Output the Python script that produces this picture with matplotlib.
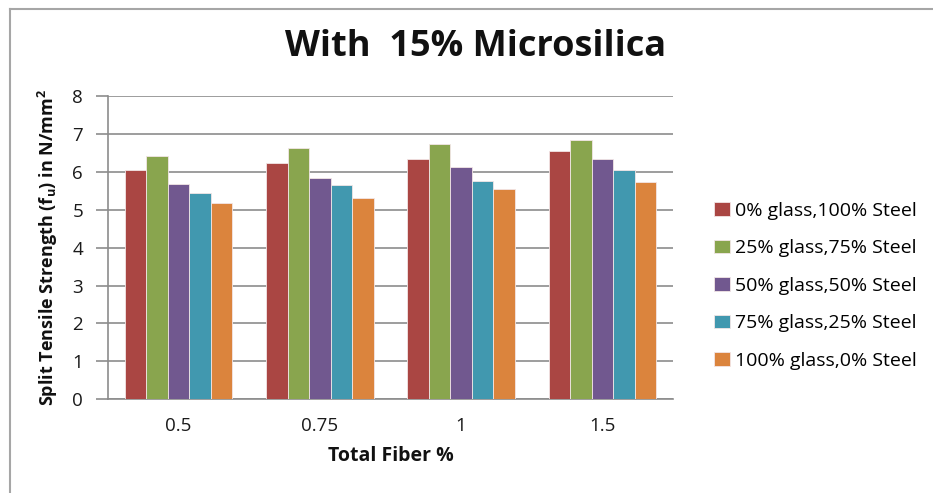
import matplotlib.pyplot as plt
import numpy as np
from matplotlib.lines import Line2D

plt.rcParams['font.family'] = ['Open Sans', 'DejaVu Sans']

fiber = ['0.5', '0.75', '1', '1.5']
series = ['0% glass,100% Steel', '25% glass,75% Steel', '50% glass,50% Steel',
          '75% glass,25% Steel', '100% glass,0% Steel']
s0 = [6.05, 6.23, 6.35, 6.55]
s25 = [6.43, 6.64, 6.73, 6.85]
s50 = [5.67, 5.85, 6.14, 6.35]
s75 = [5.43, 5.64, 5.77, 6.05]
s100 = [5.17, 5.30, 5.55, 5.73]
colors = ['#AA4643', '#89A54E', '#71588F', '#4198AF', '#DB843D']

fig = plt.figure(figsize=(9.33, 4.93), dpi=100)
ax = fig.add_axes([0.1158, 0.190, 0.6055, 0.6153])

# outer chart frame, only top and left edges show
fx, fy = 9.5 / 933, (493 - 8.5) / 493
fig.lines.append(Line2D([fx, 1], [fy, fy], transform=fig.transFigure,
                        color='#a6a6a6', linewidth=1.5))
fig.lines.append(Line2D([fx, fx], [0, fy], transform=fig.transFigure,
                        color='#a6a6a6', linewidth=1.5))

x = np.arange(len(fiber))
w = 0.152
for i, (vals, lab) in enumerate(zip([s0, s25, s50, s75, s100], series)):
    ax.bar(x + (i - 2) * w, vals, w, color=colors[i], label=lab,
           edgecolor='#f2e6e6', linewidth=0.6, zorder=3)

ax.set_xlim(-0.5, 3.5)
ax.set_ylim(0, 8)
ax.set_yticks(range(9))
ax.set_xticks(x)
ax.set_xticklabels(fiber)
ax.yaxis.grid(True, color='#8c8c8c', linewidth=1.2, zorder=0)
ax.set_axisbelow(True)

for s in ['top', 'right']:
    ax.spines[s].set_visible(False)
ax.spines['left'].set_color('#8c8c8c')
ax.spines['bottom'].set_color('#8c8c8c')
ax.spines['left'].set_linewidth(1.2)
ax.spines['bottom'].set_linewidth(1.2)
ax.tick_params(axis='y', length=9, color='#8c8c8c', width=1.2, labelsize=13.5,
               labelcolor='#1a1a1a', pad=9)
ax.tick_params(axis='x', length=0, labelsize=13.5, labelcolor='#1a1a1a', pad=13)

ax.set_xlabel('Total Fiber %', fontsize=14, fontweight='bold', labelpad=8,
              color='#111111')
ax.set_ylabel('Split Tensile Strength (f$_\\mathregular{u}$) in N/mm$^\\mathregular{2}$',
              fontsize=13, fontweight='bold', labelpad=9, color='#111111')

fig.text(0.510, 0.905, 'With  15% Microsilica', ha='center', va='center',
         fontsize=26, fontweight='bold', color='#111111')

fig.legend(loc='center left', bbox_to_anchor=(0.757, 0.42), frameon=False,
           fontsize=14, handlelength=0.8, handleheight=0.7,
           handletextpad=0.3, labelspacing=1.0, borderaxespad=0)

fig.savefig('out.png', dpi=100)
